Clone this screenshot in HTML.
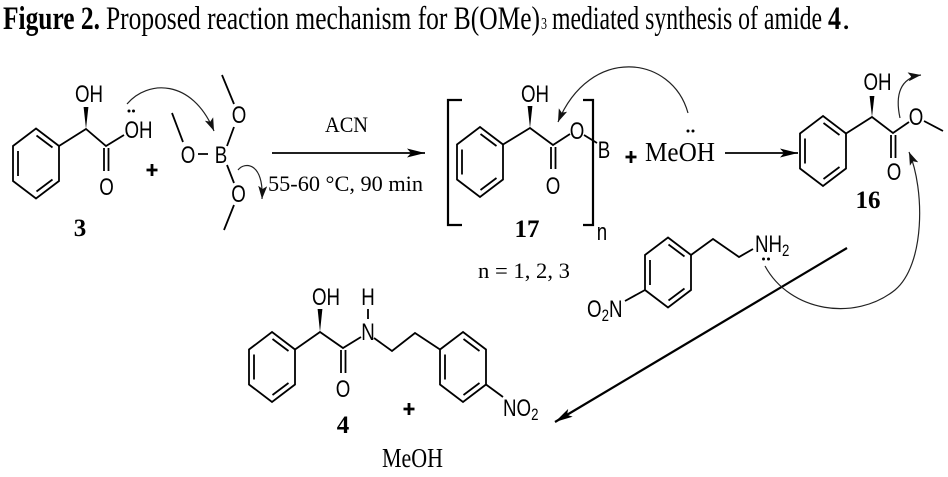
<!DOCTYPE html>
<html><head><meta charset="utf-8"><style>
html,body{margin:0;padding:0;background:#fff;}
svg{display:block;}
.s{font-family:"Liberation Sans",sans-serif;font-size:24px;fill:#000;}
.t{font-family:"Liberation Serif",serif;fill:#000;}
</style></head><body>
<svg width="948" height="477" viewBox="0 0 948 477" xmlns="http://www.w3.org/2000/svg">
<defs>
<g id="bz" fill="none" stroke="#000" stroke-width="1.8">
<path d="M0,-35 L23,-17.5 L23,17.5 L0,35 L-23,17.5 L-23,-17.5 Z"/>
<path d="M-18,-12.5 L-18,12.5 M0.5,-28 L16.5,-16 M16.5,16 L0.5,28"/>
</g>
<marker id="ca" markerUnits="userSpaceOnUse" markerWidth="13" markerHeight="9" refX="13" refY="4.5" orient="auto"><path d="M0,0 L13,4.5 L0,9 L3,4.5 Z" fill="#111"/></marker>
<marker id="ma" markerUnits="userSpaceOnUse" markerWidth="18" markerHeight="9" refX="18" refY="4.5" orient="auto"><path d="M0,0 L18,4.5 L0,9 L4,4.5 Z" fill="#000"/></marker>
</defs>

<!-- Title -->
<text class="t" font-weight="bold" font-size="33" x="3" y="29" textLength="97" lengthAdjust="spacingAndGlyphs">Figure 2.</text>
<text class="t" font-size="33" x="106" y="29" textLength="434" lengthAdjust="spacingAndGlyphs">Proposed reaction mechanism for B(OMe)</text>
<text class="t" font-size="17" x="541" y="29" textLength="6" lengthAdjust="spacingAndGlyphs">3</text>
<text class="t" font-size="33" x="552" y="29" textLength="270" lengthAdjust="spacingAndGlyphs">mediated synthesis of amide</text>
<text class="t" font-weight="bold" font-size="33" x="828" y="29" textLength="13" lengthAdjust="spacingAndGlyphs">4</text>
<text class="t" font-size="33" x="842" y="29">.</text>

<g stroke="#000" stroke-width="1.8" fill="none" stroke-linecap="butt">
<!-- Compound 3 -->
<path d="M59,146 L86,129 L106,146 L124,135 M104,148 L104,171 M108.5,148 L108.5,171"/>
<!-- Borate -->
<path d="M172,113 L183,142 M198,154 L208,154 M227,146 L234,127 M222,75 L234,104 M227,165 L234,183 M234,205 L224,230"/>
<!-- Compound 17 -->
<path d="M503,144.5 L530,128 L553,145 L570,134 M584,135 L597,143 M551,147 L551,169 M555.5,147 L555.5,169"/>
<!-- brackets -->
<path d="M462,100 L448,100 L448,225 L462,225 M583,100 L593,100 L593,225 L583,225" stroke-width="2.2"/>
<!-- Compound 16 -->
<path d="M846,133.5 L872,117 L893,133 L909,122 M924,121 L943,131 M891,135 L891,158 M895.5,135 L895.5,158"/>
<!-- Amine -->
<path d="M691,255 L713,239 L739,257 L753,249 M645,290 L625,301"/>
<!-- Compound 4 -->
<path d="M295,349.5 L320,332 L343,348 L361,337 M341,350 L341,373 M345.5,350 L345.5,373 M368,309 L368,319 M374,338 L392,351 L415,333 L440,349.5 M486,384.5 L503,397"/>
</g>

<!-- Rings -->
<use href="#bz" transform="translate(36,163.5)"/>
<use href="#bz" transform="translate(480,162)"/>
<use href="#bz" transform="translate(823,151)"/>
<use href="#bz" transform="translate(668,272.5)"/>
<use href="#bz" transform="translate(272,367)"/>
<use href="#bz" transform="translate(463,367)"/>

<!-- Wedges -->
<g fill="#000">
<polygon points="86,129 83.6,107 88.4,107"/>
<polygon points="530,128 527.6,106 532.4,106"/>
<polygon points="872,117 869.6,96 874.4,96"/>
<polygon points="320,332 317.6,309 322.4,309"/>
<!-- lone pair dots -->
<circle cx="129" cy="111" r="1.5"/><circle cx="133.5" cy="111" r="1.5"/>
<circle cx="688" cy="131" r="1.5"/><circle cx="693" cy="131" r="1.5"/>
<circle cx="763.5" cy="259" r="1.5"/><circle cx="768.5" cy="259" r="1.5"/>
</g>

<!-- Plus signs -->
<g stroke="#000" stroke-width="2.8">
<path d="M146.5,170 L157.5,170 M152,164 L152,176"/>
<path d="M625.5,157 L636.5,157 M631,151 L631,163"/>
<path d="M403.5,409 L414.5,409 M409,403 L409,415"/>
</g>

<!-- Reaction arrows -->
<g stroke="#000" fill="none">
<path d="M272,153 L425,153" stroke-width="1.8" marker-end="url(#ma)"/>
<path d="M725,153 L798,153" stroke-width="1.8" marker-end="url(#ma)"/>
<path d="M847,248 L555,422" stroke-width="2.2" marker-end="url(#ma)"/>
</g>

<!-- Curved mechanism arrows -->
<g stroke="#222" stroke-width="1.2" fill="none" marker-end="url(#ca)">
<path d="M127,104 C147,80 192,78 214,131"/>
<path d="M238,170 C245,161 264,163 262,199"/>
<path d="M688,113 C672,55 590,45 558,122"/>
<path d="M900,118 C895,95 900,78 921,75"/>
<path d="M765,266 C790,312 855,322 895,290 C925,265 925,190 909,152"/>
</g>

<!-- Sans atom labels -->
<g class="s">
<text text-anchor="middle" transform="translate(89 102) scale(.78 1)">OH</text>
<text transform="translate(124.5 138) scale(.78 1)">OH</text>
<text text-anchor="middle" transform="translate(106.5 195) scale(.78 1)">O</text>

<text text-anchor="middle" transform="translate(188 163) scale(.78 1)">O</text>
<text text-anchor="middle" transform="translate(221 163) scale(.78 1)">B</text>
<text text-anchor="middle" transform="translate(239 123) scale(.78 1)">O</text>
<text text-anchor="middle" transform="translate(238.5 202) scale(.78 1)">O</text>

<text text-anchor="middle" transform="translate(535 102) scale(.78 1)">OH</text>
<text text-anchor="middle" transform="translate(553 194) scale(.78 1)">O</text>
<text text-anchor="middle" transform="translate(577 139) scale(.78 1)">O</text>
<text text-anchor="middle" transform="translate(604 158) scale(.78 1)">B</text>
<text text-anchor="middle" transform="translate(602 240) scale(.78 1)">n</text>

<text text-anchor="middle" transform="translate(877.5 90) scale(.78 1)">OH</text>
<text text-anchor="middle" transform="translate(894 180) scale(.78 1)">O</text>
<text text-anchor="middle" transform="translate(916 125) scale(.78 1)">O</text>

<text transform="translate(755 252) scale(.78 1)">NH<tspan font-size="17" dy="4">2</tspan></text>
<text transform="translate(587 317) scale(.78 1)">O<tspan font-size="17" dy="4">2</tspan><tspan dy="-4">N</tspan></text>

<text text-anchor="middle" transform="translate(326 305) scale(.78 1)">OH</text>
<text text-anchor="middle" transform="translate(343 397) scale(.78 1)">O</text>
<text text-anchor="middle" transform="translate(368 340) scale(.78 1)">N</text>
<text text-anchor="middle" transform="translate(368 305) scale(.78 1)">H</text>
<text transform="translate(503 416) scale(.78 1)">NO<tspan font-size="17" dy="4">2</tspan></text>
</g>

<!-- Serif labels -->
<g class="t">
<text font-weight="bold" font-size="25" x="80" y="236" text-anchor="middle">3</text>
<text font-size="22" x="325" y="132" textLength="43" lengthAdjust="spacingAndGlyphs">ACN</text>
<text font-size="22" x="268" y="191" textLength="155" lengthAdjust="spacingAndGlyphs">55-60 °C, 90 min</text>
<text font-weight="bold" font-size="25" x="527" y="237" text-anchor="middle">17</text>
<text font-size="22" x="478" y="278" textLength="92" lengthAdjust="spacingAndGlyphs">n = 1, 2, 3</text>
<text font-size="27" x="645" y="161" textLength="70" lengthAdjust="spacingAndGlyphs">MeOH</text>
<text font-weight="bold" font-size="25" x="868" y="208" text-anchor="middle">16</text>
<text font-weight="bold" font-size="25" x="343" y="433" text-anchor="middle">4</text>
<text font-size="27" x="382" y="467" textLength="61" lengthAdjust="spacingAndGlyphs">MeOH</text>
</g>
</svg>
</body></html>
